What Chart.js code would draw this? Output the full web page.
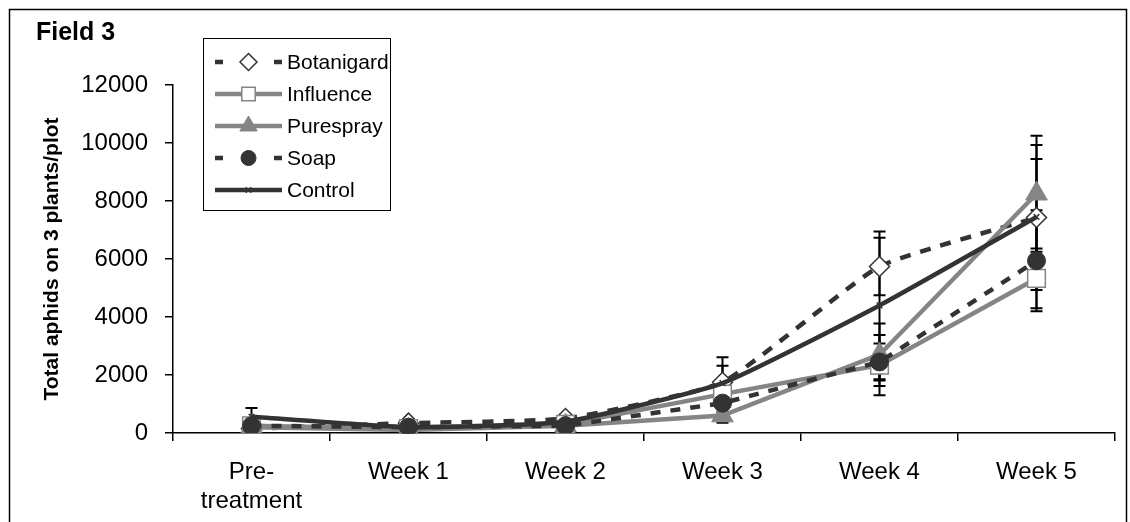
<!DOCTYPE html>
<html><head><meta charset="utf-8">
<script src="https://cdn.jsdelivr.net/npm/chart.js@4.4.0/dist/chart.umd.min.js"></script>
<style>html,body{margin:0;padding:0;background:#fff;overflow:hidden}canvas{display:block}</style>
</head><body>
<canvas id="c" width="1130" height="522"></canvas>
<script>
// ---- data ----
const categories = [['Pre-', 'treatment'], 'Week 1', 'Week 2', 'Week 3', 'Week 4', 'Week 5'];
const yTickValues = [0, 2000, 4000, 6000, 8000, 10000, 12000];
const chartTitle = 'Field 3';
const yTitle = 'Total aphids on 3 plants/plot';

const botanigard = [150, 340, 500, 1750, 5740, 7430];
const influence  = [250, 150, 300, 1340, 2340, 5330];
const purespray  = [200, 100, 250, 600, 2700, 8250];
const soap       = [250, 200, 250, 1030, 2450, 5940];
const control    = [560, 200, 390, 1720, 4400, 7450];

const botanigardErr = [100, 100, 150, 860, 990, 2500];
const influenceErr  = [100, 80, 100, 300, 1040, 1030];
const pursprayErr   = [100, 80, 100, 250, 1080, 2000];
const soapErr       = [100, 80, 100, 300, 640, 1740];
const controlErr    = [300, 100, 150, 600, 2550, 2000];

const DARK = '#333333', GRAY = '#858585';
const FONT = '"Liberation Sans", Arial, sans-serif';
Chart.defaults.font.family = FONT;
Chart.defaults.color = '#000';

const datasets = [
  { label: 'Botanigard', data: botanigard, errors: botanigardErr, borderColor: DARK, borderWidth: 4.5,
    borderDash: [11, 10], pointStyle: 'rectRot', pointRadius: 10, pointBackgroundColor: '#fff',
    pointBorderColor: DARK, pointBorderWidth: 1.5, tension: 0.15, order: 5, legendRadius: 8.5, dashedLegend: true },
  { label: 'Influence', data: influence, errors: influenceErr, borderColor: GRAY, borderWidth: 4.5,
    pointStyle: 'rect', pointRadius: 12.5, pointBackgroundColor: '#fff', pointBorderColor: GRAY,
    pointBorderWidth: 1.5, tension: 0, order: 4, legendRadius: 9.5 },
  { label: 'Purespray', data: purespray, errors: pursprayErr, borderColor: GRAY, borderWidth: 4.5,
    pointStyle: 'triangle', pointRadius: 12.5, pointBackgroundColor: GRAY, pointBorderColor: GRAY,
    pointBorderWidth: 1, tension: 0, order: 3, legendRadius: 10 },
  { label: 'Soap', data: soap, errors: soapErr, borderColor: DARK, borderWidth: 4.5,
    borderDash: [10, 10], pointStyle: 'circle', pointRadius: 9, pointBackgroundColor: DARK,
    pointBorderColor: DARK, pointBorderWidth: 1, tension: 0, order: 2, legendRadius: 7.5, dashedLegend: true },
  { label: 'Control', data: control, errors: controlErr, borderColor: DARK, borderWidth: 4.5,
    pointStyle: 'crossRot', pointRadius: 4, pointBackgroundColor: DARK, pointBorderColor: DARK,
    pointBorderWidth: 1.5, tension: 0.15, order: 1, legendRadius: 4 }
];

const errorBarPlugin = {
  id: 'errbars',
  beforeDatasetsDraw(chart) {
    const ctx = chart.ctx, ys = chart.scales.y;
    ctx.save();
    ctx.strokeStyle = '#000';
    ctx.lineWidth = 2;
    chart.data.datasets.forEach((ds, i) => {
      const meta = chart.getDatasetMeta(i);
      meta.data.forEach((pt, j) => {
        const v = ds.data[j], e = ds.errors[j];
        const yt = ys.getPixelForValue(v + e), yb = ys.getPixelForValue(Math.max(0, v - e));
        const x = pt.x;
        ctx.beginPath();
        ctx.moveTo(x, yt); ctx.lineTo(x, yb);
        ctx.moveTo(x - 6, yt); ctx.lineTo(x + 6, yt);
        ctx.moveTo(x - 6, yb); ctx.lineTo(x + 6, yb);
        ctx.stroke();
      });
    });
    ctx.restore();
  }
};

const decorPlugin = {
  id: 'decor',
  afterDraw(chart) {
    const ctx = chart.ctx;
    ctx.save();
    // outer frame
    ctx.strokeStyle = '#000';
    ctx.lineWidth = 1.5;
    ctx.strokeRect(9.5, 9.5, 1117, 700);
    // title
    ctx.fillStyle = '#000';
    ctx.font = 'bold 25px ' + FONT;
    ctx.textBaseline = 'alphabetic';
    ctx.textAlign = 'left';
    ctx.fillText(chartTitle, 36, 40);
    // legend box
    ctx.lineWidth = 1;
    ctx.fillStyle = '#fff';
    ctx.fillRect(203.5, 38.5, 187, 172);
    ctx.strokeRect(203.5, 38.5, 187, 172);
    const x0 = 215, x1 = 282, xm = 248.5;
    chart.data.datasets.forEach((ds, i) => {
      const y = 62 + i * 32;
      ctx.strokeStyle = ds.borderColor;
      ctx.lineWidth = ds.borderWidth;
      ctx.beginPath();
      if (ds.dashedLegend) {
        ctx.moveTo(x0, y); ctx.lineTo(x0 + 8, y);
        ctx.moveTo(x1 - 8, y); ctx.lineTo(x1, y);
      } else {
        ctx.moveTo(x0, y); ctx.lineTo(x1, y);
      }
      ctx.stroke();
      ctx.fillStyle = ds.pointBackgroundColor;
      ctx.strokeStyle = ds.pointBorderColor;
      ctx.lineWidth = ds.pointBorderWidth;
      Chart.helpers.drawPoint(ctx, { pointStyle: ds.pointStyle, radius: ds.legendRadius, rotation: 0, borderWidth: ds.pointBorderWidth }, xm, y);
      ctx.fillStyle = '#000';
      ctx.font = '21px ' + FONT;
      ctx.textBaseline = 'middle';
      ctx.fillText(ds.label, 287, y + 1);
    });
    ctx.restore();
  }
};

new Chart(document.getElementById('c'), {
  type: 'line',
  data: { labels: categories, datasets },
  options: {
    responsive: false,
    animation: false,
    devicePixelRatio: 1,
    layout: { padding: { left: 0, top: 85, right: 15, bottom: 0 } },
    plugins: { legend: { display: false }, tooltip: { enabled: false } },
    scales: {
      x: {
        type: 'category',
        offset: true,
        grid: { offset: true, drawOnChartArea: false, drawTicks: true, tickLength: 8, color: '#000', lineWidth: 1.5 },
        border: { display: true, color: '#000', width: 1.5 },
        ticks: { font: { size: 24, lineHeight: 1.2 }, color: '#000', padding: 17, maxRotation: 0, autoSkip: false },
        afterFit(s) { s.height = 89; }
      },
      y: {
        min: 0, max: 12000,
        afterBuildTicks(s) { s.ticks = yTickValues.map(v => ({ value: v })); },
        grid: { drawOnChartArea: false, drawTicks: true, tickLength: 8, color: '#000', lineWidth: 1.5 },
        border: { display: true, color: '#000', width: 1.5 },
        ticks: { font: { size: 24 }, color: '#000', padding: 17, callback: v => String(v) },
        title: { display: true, text: yTitle, font: { size: 21, weight: 'bold' }, color: '#000', padding: { top: 40, bottom: 0 } },
        afterFit(s) { s.width = 173; }
      }
    }
  },
  plugins: [errorBarPlugin, decorPlugin]
});
</script>
</body></html>
